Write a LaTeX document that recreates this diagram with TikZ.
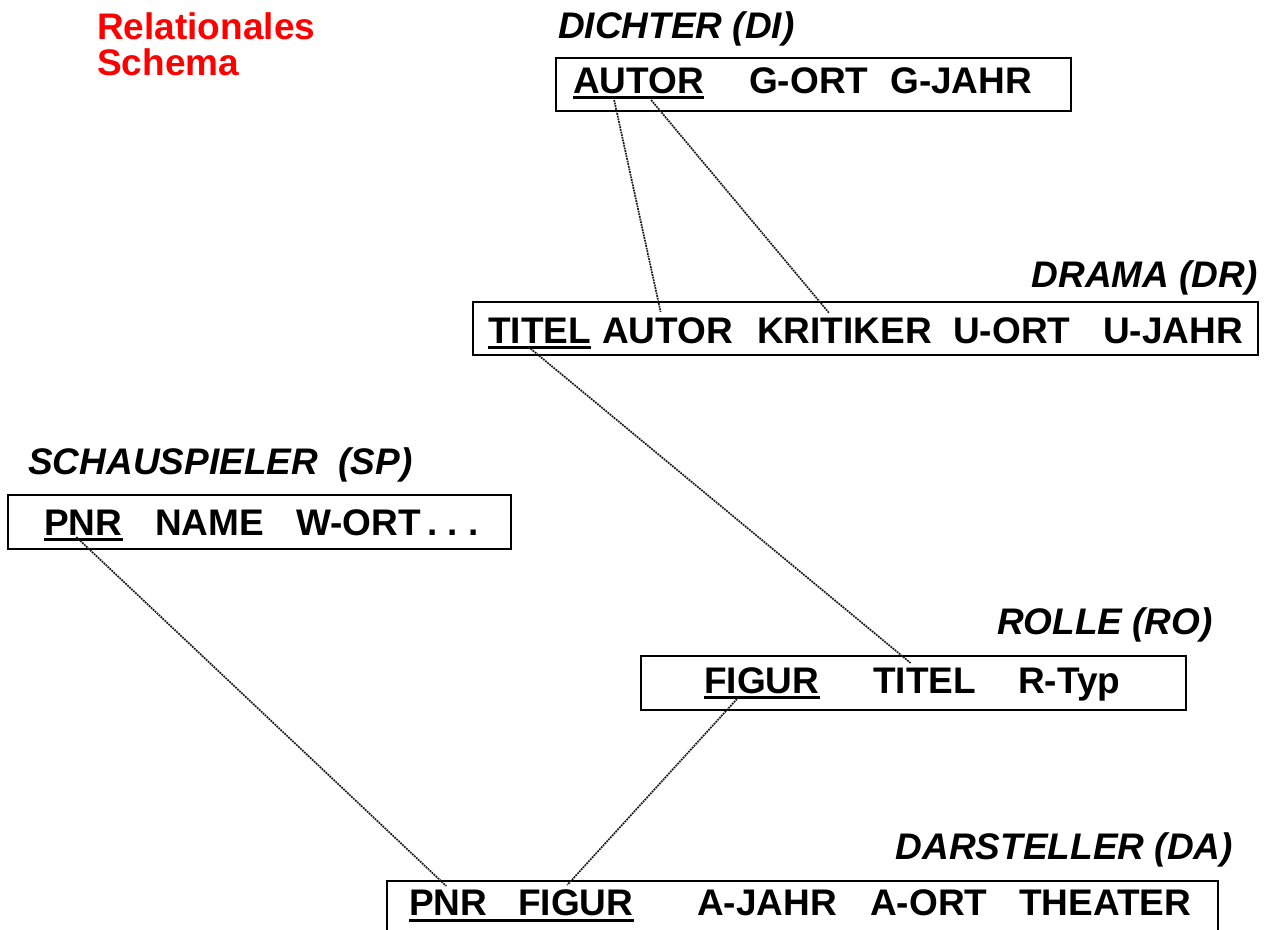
\documentclass[tikz,border=0pt]{standalone}
\usepackage{fontspec}
\setmainfont{Liberation Sans}
\usetikzlibrary{calc}
\begin{document}
\begin{tikzpicture}[x=1pt,y=-1pt,
  tbl/.style={draw,line width=2.4pt,rectangle,inner sep=0pt},
  word/.style={anchor=base west,inner sep=0pt,font=\fontsize{37}{40}\selectfont\bfseries},
  ttl/.style={inner sep=0pt,font=\fontsize{37}{40}\selectfont\bfseries\itshape},
  note/.style={anchor=base west,inner sep=0pt,text=red,font=\fontsize{37}{40}\selectfont\bfseries},
  uline/.style={line width=3.4pt},
  link/.style={line width=1.7pt,black!90,dash pattern=on 1.8pt off 0.9pt}]
\useasboundingbox (0,0) rectangle (1273,929);
\clip (0,0) rectangle (1273,929);

% heading
\node[note] (h1) at (97,39) {Relationales};
\node[note] (h2) at (97,75) {Schema};

% DICHTER
\node[ttl,anchor=base west] (diT) at (558,38) {DICHTER (DI)};
\node[tbl,minimum width=515pt,minimum height=53pt] (diBox) at (813.5,84.5) {};
\node[word] (diAUTOR) at (573,93) {AUTOR};
\node[word] (diGORT) at (749,93) {G-ORT};
\node[word] (diGJAHR) at (890,93) {G-JAHR};
\draw[uline] ($(diAUTOR.base west)+(0,4.5)$) -- ($(diAUTOR.base east)+(0,4.5)$);

% DRAMA
\node[ttl,anchor=base east] (drT) at (1258,287) {DRAMA (DR)};
\node[tbl,minimum width=785pt,minimum height=53pt] (drBox) at (865.5,328.5) {};
\node[word] (drTITEL) at (488,343) {TITEL};
\node[word] (drAUTOR) at (602,343) {AUTOR};
\node[word] (drKRITIKER) at (757,343) {KRITIKER};
\node[word] (drUORT) at (953,343) {U-ORT};
\node[word] (drUJAHR) at (1103,343) {U-JAHR};
\draw[uline] ($(drTITEL.base west)+(0,4.5)$) -- ($(drTITEL.base east)+(0,4.5)$);

% SCHAUSPIELER
\node[ttl,anchor=base west] (spT) at (28,474) {SCHAUSPIELER\ \ (SP)};
\node[tbl,minimum width=503pt,minimum height=54pt] (spBox) at (259.5,522) {};
\node[word] (spPNR) at (44,535) {PNR};
\node[word] (spNAME) at (155,535) {NAME};
\node[word] (spWORT) at (296,535) {W-ORT};
\node[word] (spDOTS) at (427,535) {.\ .\ .};
\draw[uline] ($(spPNR.base west)+(0,4.5)$) -- ($(spPNR.base east)+(0,4.5)$);

% ROLLE
\node[ttl,anchor=base east] (roT) at (1213,634) {ROLLE (RO)};
\node[tbl,minimum width=545pt,minimum height=54pt] (roBox) at (913.5,683) {};
\node[word] (roFIGUR) at (704,693) {FIGUR};
\node[word] (roTITEL) at (873,693) {TITEL};
\node[word] (roRTYP) at (1018,693) {R-Typ};
\draw[uline] ($(roFIGUR.base west)+(0,4.5)$) -- ($(roFIGUR.base east)+(0,4.5)$);

% DARSTELLER
\node[ttl,anchor=base east] (daT) at (1233,859) {DARSTELLER (DA)};
\node[tbl,minimum width=831pt,minimum height=56pt] (daBox) at (802.5,909) {};
\node[word] (daPNR) at (409,915) {PNR};
\node[word] (daFIGUR) at (518,915) {FIGUR};
\node[word] (daAJAHR) at (697,915) {A-JAHR};
\node[word] (daAORT) at (870,915) {A-ORT};
\node[word] (daTHEATER) at (1019,915) {THEATER};
\draw[uline] ($(daPNR.base west)+(0,5.5)$) -- ($(daFIGUR.base east)+(0,5.5)$);

% connectors
\draw[link] ($(diAUTOR.base)+(-24.5,7)$) -- ($(drAUTOR.base)+(-7,-31)$);
\draw[link] ($(diAUTOR.base)+(12.5,7)$) -- ($(drKRITIKER.base)+(-15.5,-30)$);
\draw[link] ($(drTITEL.base)+(-11,4)$) -- ($(roTITEL.base)+(-14,-30)$);
\draw[link] ($(spPNR.base)+(-7,2)$) -- ($(daPNR.base)+(-2,-29)$);
\draw[link] ($(roFIGUR.base)+(-23,4)$) -- ($(daFIGUR.base)+(-8.5,-30)$);
\end{tikzpicture}
\end{document}
